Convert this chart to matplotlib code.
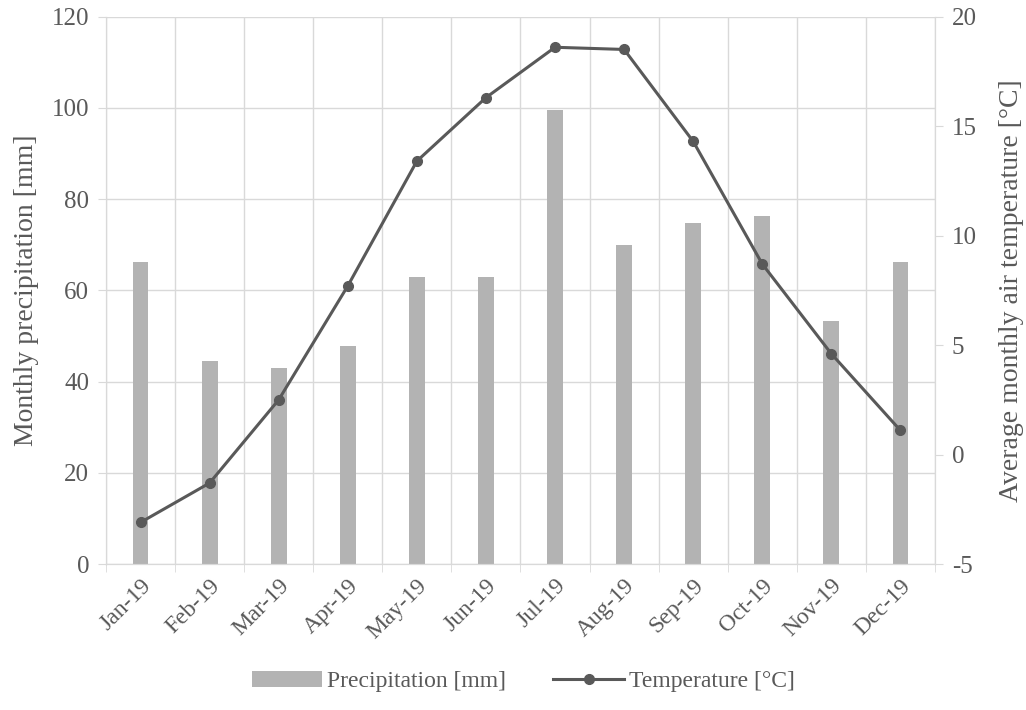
import matplotlib.pyplot as plt
import numpy as np

months = ['Jan-19', 'Feb-19', 'Mar-19', 'Apr-19', 'May-19', 'Jun-19',
          'Jul-19', 'Aug-19', 'Sep-19', 'Oct-19', 'Nov-19', 'Dec-19']
precip = [66.2, 44.4, 43.0, 47.8, 62.9, 62.9, 99.5, 69.9, 74.7, 76.2, 53.2, 66.2]
temp = [-3.1, -1.3, 2.5, 7.7, 13.4, 16.3, 18.6, 18.5, 14.3, 8.7, 4.6, 1.1]

plt.rcParams['font.family'] = ['Liberation Serif', 'DejaVu Serif']
plt.rcParams['axes.unicode_minus'] = False
txt = '#595959'
grid = '#d9d9d9'

fig = plt.figure(figsize=(10.26, 7.10), dpi=100)
ax = fig.add_axes([0.1033, 0.2056, 0.808, 0.771])
x = np.arange(len(months))

ax.bar(x, precip, width=0.23, color='#b3b3b3', zorder=2, label='Precipitation [mm]')
ax.set_xlim(-0.5, len(months) - 0.5)
ax.set_ylim(0, 120)
ax.set_yticks(range(0, 121, 20))
ax.set_xticks(x)
ax.set_xticklabels(months, rotation=45, ha='right', rotation_mode='anchor')
ax.set_xticks(np.arange(-0.5, len(months)), minor=True)
ax.tick_params(axis='x', which='major', length=0, pad=8)
ax.tick_params(axis='x', which='minor', length=6, color=grid, direction='out')
ax.tick_params(axis='y', length=6, color=grid, colors=txt, labelsize=18, pad=6)
ax.tick_params(axis='x', colors=txt, labelsize=17)
ax.yaxis.grid(True, color=grid, lw=1, zorder=0)
ax.xaxis.grid(True, which='minor', color=grid, lw=1, zorder=0)
ax.spines['top'].set_visible(False)
for s in ['left', 'bottom', 'right']:
    ax.spines[s].set_color(grid)
ax.set_ylabel('Monthly precipitation [mm]', color=txt, fontsize=20, labelpad=9)

ax2 = ax.twinx()
ax2.plot(x, temp, color='#595959', lw=2.2, marker='o', ms=7, zorder=3, label='Temperature [°C]')
ax2.set_ylim(-5, 20)
ax2.set_yticks(range(-5, 21, 5))
ax2.tick_params(axis='y', length=6, color=grid, colors=txt, labelsize=18, pad=6)
ax2.spines['top'].set_visible(False)
for s in ['left', 'bottom', 'right']:
    ax2.spines[s].set_color(grid)
ax2.set_ylabel('Average monthly air temperature [°C]', color=txt, fontsize=20, labelpad=16)

h1, l1 = ax.get_legend_handles_labels()
h2, l2 = ax2.get_legend_handles_labels()
fig.legend(h1 + h2, l1 + l2, loc='lower center', bbox_to_anchor=(0.51, -0.005), ncol=2,
           frameon=False, fontsize=17, labelcolor=txt, handlelength=3.0,
           columnspacing=2.0, handletextpad=0.2)

fig.savefig('out.png', dpi=100)
